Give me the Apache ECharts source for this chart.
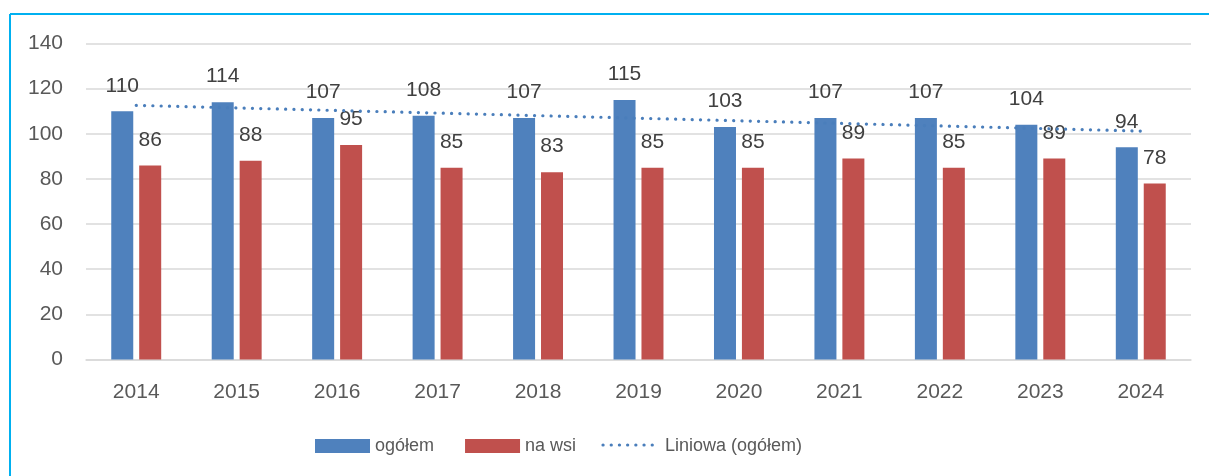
<!DOCTYPE html>
<html>
<head>
<meta charset="utf-8">
<script src="https://cdn.jsdelivr.net/npm/echarts@6/dist/echarts.min.js"></script>
<style>
  html, body { margin: 0; padding: 0; background: #fff; }
  #chart { width: 1209px; height: 476px; }
</style>
</head>
<body>
<div id="chart"></div>
<script>
// Years on the category axis
const years = ['2014', '2015', '2016', '2017', '2018', '2019', '2020', '2021', '2022', '2023', '2024'];
// Totals and rural values per year
const ogolem = [110, 114, 107, 108, 107, 115, 103, 107, 107, 104, 94];
const naWsi = [86, 88, 95, 85, 83, 85, 85, 89, 85, 89, 78];
// Linear trend of the totals: value at the first and the last year
const trendStart = 112.6;
const trendEnd = 101.2;
// Value axis ticks
const yTicks = [0, 20, 40, 60, 80, 100, 120, 140];

const seriesNames = ['ogółem', 'na wsi', 'Liniowa (ogółem)'];
const fontFamily = '"Liberation Sans", Arial, sans-serif';
const trendColor = '#4A7EBB';
const trendLine = { color: trendColor, width: 3.2, type: [0.1, 8.2], cap: 'round' };

const chart = echarts.init(document.getElementById('chart'), null, { renderer: 'canvas' });

const labelStyle = {
  show: true,
  position: 'top',
  distance: 15,
  color: '#404040',
  fontSize: 21,
  fontFamily: fontFamily
};

chart.setOption({
  animation: false,
  backgroundColor: '#ffffff',
  graphic: [
    // Frame lines along the top and the left edge
    { type: 'line', shape: { x1: 10, y1: 14, x2: 1209, y2: 14 }, style: { stroke: '#00B0F0', lineWidth: 2 } },
    { type: 'line', shape: { x1: 10, y1: 14, x2: 10, y2: 476 }, style: { stroke: '#00B0F0', lineWidth: 2 } },
    // Legend entry of the dotted trend line
    {
      type: 'line',
      shape: { x1: 603, y1: 445, x2: 660, y2: 445 },
      style: { stroke: trendColor, lineWidth: 3.2, lineDash: [0.1, 8.1], lineCap: 'round' }
    },
    {
      type: 'text',
      left: 665,
      top: 437,
      style: { text: seriesNames[2], fill: '#595959', fontSize: 18, fontFamily: fontFamily }
    }
  ],
  grid: { left: 86, right: 18, top: 43.5, bottom: 116.5, containLabel: false },
  legend: {
    left: 315,
    top: 437,
    padding: 0,
    icon: 'rect',
    itemWidth: 55,
    itemHeight: 14,
    itemGap: 31,
    textStyle: { color: '#595959', fontSize: 18, fontFamily: fontFamily },
    data: [seriesNames[0], seriesNames[1]]
  },
  xAxis: {
    type: 'category',
    data: years,
    axisLine: { show: true, lineStyle: { color: '#D9D9D9', width: 1.5 } },
    axisTick: { show: false },
    axisLabel: { color: '#595959', fontSize: 21, fontFamily: fontFamily, margin: 22 }
  },
  yAxis: {
    type: 'value',
    min: yTicks[0],
    max: yTicks[yTicks.length - 1],
    interval: yTicks[1] - yTicks[0],
    axisLine: { show: false },
    axisTick: { show: false },
    splitLine: { lineStyle: { color: '#D9D9D9', width: 1.5 } },
    axisLabel: { color: '#595959', fontSize: 21, fontFamily: fontFamily, margin: 23 }
  },
  series: [
    {
      name: seriesNames[0],
      type: 'bar',
      data: ogolem,
      barWidth: 22,
      barGap: '27%',
      itemStyle: { color: '#4F81BD' },
      label: labelStyle,
      z: 2
    },
    {
      name: seriesNames[1],
      type: 'bar',
      data: naWsi,
      barWidth: 22,
      barGap: '27%',
      itemStyle: { color: '#C0504D' },
      label: labelStyle,
      z: 2
    },
    {
      name: seriesNames[2],
      type: 'line',
      data: [[years[0], trendStart], [years[years.length - 1], trendEnd]],
      symbol: 'none',
      lineStyle: trendLine,
      itemStyle: { color: trendColor },
      z: 3
    }
  ]
});
</script>
</body>
</html>
